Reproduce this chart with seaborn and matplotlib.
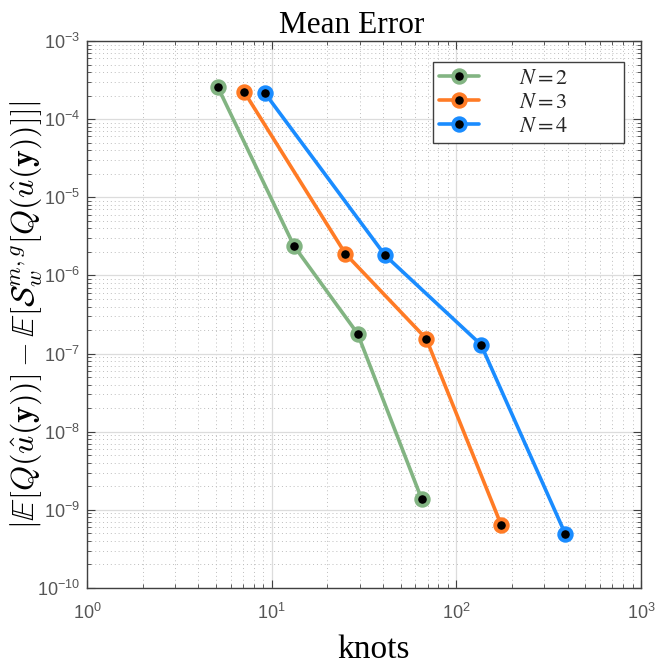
import numpy as np
import pandas as pd
import seaborn as sns
import matplotlib
matplotlib.use("Agg")
import matplotlib.pyplot as plt
from matplotlib import font_manager, ticker

# values
knots_n2 = [5.1, 13.2, 29.2, 65]
err_n2 = [2.6e-4, 2.39e-6, 1.8e-7, 1.36e-9]
knots_n3 = [7.1, 25.1, 68.7, 175]
err_n3 = [2.23e-4, 1.89e-6, 1.55e-7, 6.4e-10]
knots_n4 = [9.2, 41.2, 136, 390]
err_n4 = [2.15e-4, 1.8e-6, 1.3e-7, 4.86e-10]
series_labels = ["$N = 2$", "$N = 3$", "$N = 4$"]
colors = ["#82b482", "#ff7b25", "#1a8cff"]

df = pd.concat([
    pd.DataFrame({"knots": knots_n2, "err": err_n2, "N": series_labels[0]}),
    pd.DataFrame({"knots": knots_n3, "err": err_n3, "N": series_labels[1]}),
    pd.DataFrame({"knots": knots_n4, "err": err_n4, "N": series_labels[2]}),
])

sns.set_style("ticks")
names = {f.name for f in font_manager.fontManager.ttflist}
tick_font = "Liberation Sans Narrow" if "Liberation Sans Narrow" in names else "Liberation Sans"
plt.rcParams["font.family"] = [tick_font, "DejaVu Sans"]
plt.rcParams["mathtext.fontset"] = "custom"
plt.rcParams["mathtext.rm"] = tick_font
plt.rcParams["mathtext.it"] = tick_font + ":italic"

fig = plt.figure(figsize=(6.57, 6.64), dpi=100)
ax = fig.add_axes([87 / 657, 1 - 588 / 664, 554 / 657, 547 / 664])

sns.lineplot(data=df, x="knots", y="err", hue="N", palette=colors,
             hue_order=series_labels, sort=True, linewidth=2.6, marker="o",
             markersize=9, legend=False, ax=ax)
for line, c in zip(ax.lines, colors):
    line.set_markerfacecolor("black")
    line.set_markeredgecolor(c)
    line.set_markeredgewidth(2.8)
    line.set_markersize(9)

ax.set_xscale("log")
ax.set_yscale("log")
ax.set_xlim(1, 1000)
ax.set_ylim(1e-10, 1e-3)
for axis in (ax.xaxis, ax.yaxis):
    axis.set_major_locator(ticker.LogLocator(base=10, numticks=20))
    axis.set_minor_locator(ticker.LogLocator(base=10, subs=np.arange(2, 10), numticks=20))
    axis.set_minor_formatter(ticker.NullFormatter())
    axis.set_major_formatter(ticker.FuncFormatter(lambda v, p: "10$^{%d}$" % round(np.log10(v))))

ax.grid(which="major", color="#dcdcdc", lw=0.9, ls="-")
ax.grid(which="minor", color="#bdbdbd", lw=0.7, ls=(0, (1, 3)))
ax.set_axisbelow(True)
for s in ax.spines.values():
    s.set_color("#404040")
    s.set_linewidth(1.0)
ax.tick_params(which="both", direction="in", top=True, right=True, colors="#404040",
               labelcolor="#555555", labelsize=13)
ax.tick_params(which="major", length=6)
ax.tick_params(which="minor", length=3)
ax.tick_params(axis="x", pad=11)
ax.tick_params(axis="y", pad=5)

ax.set_title("Mean Error", fontsize=22.5, family="Liberation Serif", color="black", pad=6, x=0.478)
ax.set_xlabel("knots", fontsize=24, family="Liberation Serif", color="black")
ax.xaxis.set_label_coords(0.517, -0.128)
ax.xaxis.label.set_va("baseline")
ax.set_ylabel(r"$|\mathbb{E}[Q(\hat{u}(\mathbf{y}))]-\mathbb{E}[\mathcal{S}_w^{m,g}[Q(\hat{u}(\mathbf{y}))]]|$",
              fontsize=23, color="black", math_fontfamily="cm")
ax.yaxis.set_label_coords(-0.11, 0.5)
ax.yaxis.label.set_va("center")

leg = ax.legend(handles=ax.lines[:3], labels=series_labels, loc="upper left",
                bbox_to_anchor=(0.6245, 0.819, 0.3445, 0.1426), mode="expand",
                borderaxespad=0, fontsize=16,
                handlelength=1.8, handletextpad=1.8, labelspacing=0.15, borderpad=0.25,
                fancybox=False, framealpha=1, edgecolor="#404040")
leg.get_frame().set_linewidth(1.0)
for t in leg.get_texts():
    t.set_math_fontfamily("stix")

fig.savefig("out.png", dpi=100)
